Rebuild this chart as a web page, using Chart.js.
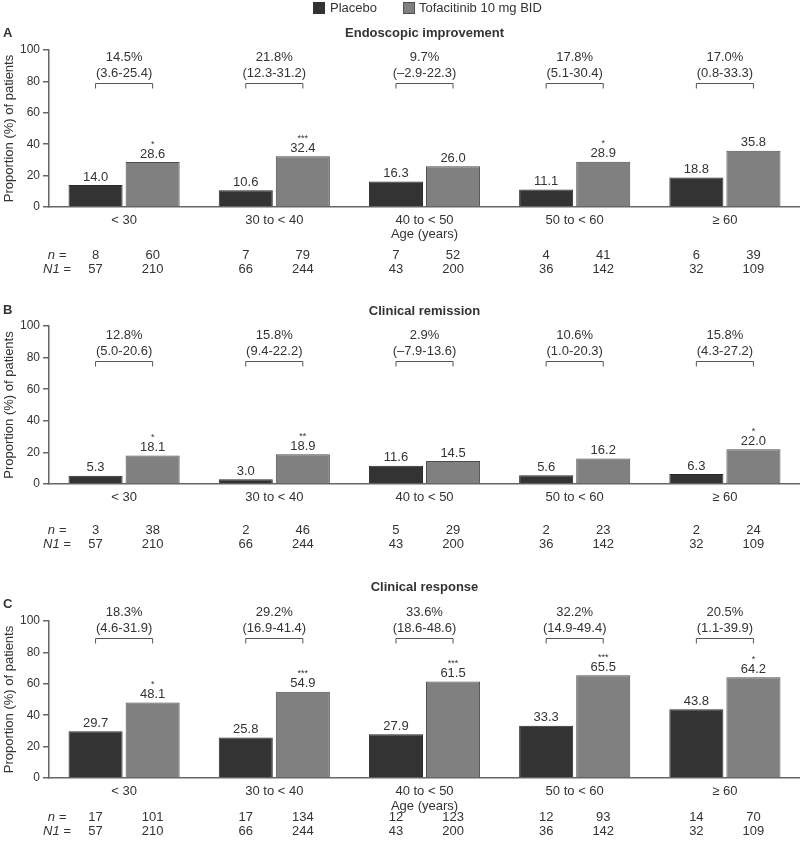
<!DOCTYPE html>
<html>
<head>
<meta charset="utf-8">
<script src="https://cdn.jsdelivr.net/npm/chart.js@4.4.1/dist/chart.umd.min.js"></script>
<style>
    body { margin: 0; background: #fff; }
    .panel { position: absolute; left: 0; width: 800px; height: 282px; }
</style>
</head>
<body>
<div class="panel" style="top:0"><canvas id="chartA" width="800" height="282"></canvas></div>
<div class="panel" style="top:282px"><canvas id="chartB" width="800" height="282"></canvas></div>
<div class="panel" style="top:564px"><canvas id="chartC" width="800" height="282"></canvas></div>
<script>
// ------------------------------------------------------------------
// DATA
// ------------------------------------------------------------------
const AGE_GROUPS = ["< 30", "30 to < 40", "40 to < 50", "50 to < 60", "≥ 60"];
const Y_TICKS = [0, 20, 40, 60, 80, 100];

const N1_PLACEBO = [57, 66, 43, 36, 32];
const N1_TOFA = [210, 244, 200, 142, 109];

// A - Endoscopic improvement
const ENDO_PLACEBO = [14.0, 10.6, 16.3, 11.1, 18.8];
const ENDO_TOFA = [28.6, 32.4, 26.0, 28.9, 35.8];
const ENDO_SIG = ["*", "***", "", "*", ""];
const ENDO_DIFF = ["14.5%", "21.8%", "9.7%", "17.8%", "17.0%"];
const ENDO_CI = ["(3.6-25.4)", "(12.3-31.2)", "(–2.9-22.3)", "(5.1-30.4)", "(0.8-33.3)"];
const ENDO_N_PLACEBO = [8, 7, 7, 4, 6];
const ENDO_N_TOFA = [60, 79, 52, 41, 39];

// B - Clinical remission
const REM_PLACEBO = [5.3, 3.0, 11.6, 5.6, 6.3];
const REM_TOFA = [18.1, 18.9, 14.5, 16.2, 22.0];
const REM_SIG = ["*", "**", "", "", "*"];
const REM_DIFF = ["12.8%", "15.8%", "2.9%", "10.6%", "15.8%"];
const REM_CI = ["(5.0-20.6)", "(9.4-22.2)", "(–7.9-13.6)", "(1.0-20.3)", "(4.3-27.2)"];
const REM_N_PLACEBO = [3, 2, 5, 2, 2];
const REM_N_TOFA = [38, 46, 29, 23, 24];

// C - Clinical response
const RESP_PLACEBO = [29.7, 25.8, 27.9, 33.3, 43.8];
const RESP_TOFA = [48.1, 54.9, 61.5, 65.5, 64.2];
const RESP_SIG = ["*", "***", "***", "***", "*"];
const RESP_DIFF = ["18.3%", "29.2%", "33.6%", "32.2%", "20.5%"];
const RESP_CI = ["(4.6-31.9)", "(16.9-41.4)", "(18.6-48.6)", "(14.9-49.4)", "(1.1-39.9)"];
const RESP_N_PLACEBO = [17, 17, 12, 12, 14];
const RESP_N_TOFA = [101, 134, 123, 93, 70];

// ------------------------------------------------------------------
// STYLE
// ------------------------------------------------------------------
const FONT = '"Liberation Sans", Arial, sans-serif';
const TEXT = "#333";
const AXIS = "#666";
const PLACEBO_FILL = "#333333";
const TOFA_FILL = "#808080";
const TOFA_BORDER = "#4d4d4d";

// ------------------------------------------------------------------
const PANELS = [
    {
        id: "chartA", letter: "A", title: "Endoscopic improvement",
        placebo: ENDO_PLACEBO, tofa: ENDO_TOFA, sig: ENDO_SIG, diff: ENDO_DIFF, ci: ENDO_CI,
        nPlacebo: ENDO_N_PLACEBO, nTofa: ENDO_N_TOFA,
        padTop: 50, axisH: 75, titleY: 33, letterY: 33, legend: true,
        ageDy: 27, nDy: 48, bracket: 79
    },
    {
        id: "chartB", letter: "B", title: "Clinical remission",
        placebo: REM_PLACEBO, tofa: REM_TOFA, sig: REM_SIG, diff: REM_DIFF, ci: REM_CI,
        nPlacebo: REM_N_PLACEBO, nTofa: REM_N_TOFA,
        padTop: 44, axisH: 80, titleY: 29, letterY: 28, legend: false,
        ageDy: null, nDy: 46, bracket: 78
    },
    {
        id: "chartC", letter: "C", title: "Clinical response",
        placebo: RESP_PLACEBO, tofa: RESP_TOFA, sig: RESP_SIG, diff: RESP_DIFF, ci: RESP_CI,
        nPlacebo: RESP_N_PLACEBO, nTofa: RESP_N_TOFA,
        padTop: 57, axisH: 68, titleY: 23, letterY: 40, legend: false,
        ageDy: 28, nDy: 39, bracket: 89
    }
];

// ------------------------------------------------------------------
// annotations: titles, legend, value labels, brackets, n / N1 rows
// ------------------------------------------------------------------
function makeAnnotations(p) {
    return {
        id: "annotations",
        afterDraw(chart) {
            const ctx = chart.ctx;
            const area = chart.chartArea;
            const yScale = chart.scales.y;
            const barsP = chart.getDatasetMeta(0).data;
            const barsT = chart.getDatasetMeta(1).data;
            const midX = (area.left + area.right) / 2;

            ctx.save();
            ctx.fillStyle = TEXT;
            ctx.textBaseline = "middle";

            // panel letter + title
            ctx.font = "bold 13px " + FONT;
            ctx.textAlign = "left";
            ctx.fillText(p.letter, 3, p.letterY);
            ctx.textAlign = "center";
            ctx.fillText(p.title, midX, p.titleY);

            // legend (top panel only)
            if (p.legend) {
                ctx.font = "13px " + FONT;
                ctx.textAlign = "left";
                ctx.fillStyle = PLACEBO_FILL;
                ctx.fillRect(313, 2, 12, 12);
                ctx.fillStyle = TOFA_FILL;
                ctx.fillRect(403, 2, 12, 12);
                ctx.strokeStyle = TOFA_BORDER;
                ctx.lineWidth = 1;
                ctx.strokeRect(403.5, 2.5, 11, 11);
                ctx.fillStyle = TEXT;
                ctx.fillText(chart.data.datasets[0].label, 330, 8);
                ctx.fillText(chart.data.datasets[1].label, 419, 8);
            }

            ctx.textAlign = "center";
            for (let i = 0; i < AGE_GROUPS.length; i++) {
                const bp = barsP[i], bt = barsT[i];

                // value labels
                ctx.font = "13px " + FONT;
                ctx.fillText(p.placebo[i].toFixed(1), bp.x, bp.y - 8);
                ctx.fillText(p.tofa[i].toFixed(1), bt.x, bt.y - 8);
                if (p.sig[i]) {
                    ctx.font = "9px " + FONT;
                    ctx.fillText(p.sig[i], bt.x, bt.y - 18);
                }

                // bracket with difference and CI
                const by = Math.round(yScale.getPixelForValue(p.bracket)) + 0.5;
                ctx.strokeStyle = "#555";
                ctx.lineWidth = 1;
                ctx.beginPath();
                ctx.moveTo(bp.x, by + 5);
                ctx.lineTo(bp.x, by);
                ctx.lineTo(bt.x, by);
                ctx.lineTo(bt.x, by + 5);
                ctx.stroke();

                const cx = (bp.x + bt.x) / 2;
                ctx.font = "13px " + FONT;
                ctx.fillText(p.diff[i], cx, by - 26);
                ctx.fillText(p.ci[i], cx, by - 10);

                // n / N1 rows
                ctx.fillText(String(p.nPlacebo[i]), bp.x, area.bottom + p.nDy);
                ctx.fillText(String(p.nTofa[i]), bt.x, area.bottom + p.nDy);
                ctx.fillText(String(N1_PLACEBO[i]), bp.x, area.bottom + p.nDy + 14);
                ctx.fillText(String(N1_TOFA[i]), bt.x, area.bottom + p.nDy + 14);
            }

            ctx.font = "italic 13px " + FONT;
            ctx.fillText("n =", 57, area.bottom + p.nDy);
            ctx.fillText("N1 =", 57, area.bottom + p.nDy + 14);

            if (p.ageDy !== null) {
                ctx.font = "13px " + FONT;
                ctx.fillText("Age (years)", midX, area.bottom + p.ageDy);
            }
            ctx.restore();
        }
    };
}

// ------------------------------------------------------------------
function drawPanel(p) {
    const ctx = document.getElementById(p.id).getContext("2d");

    new Chart(ctx, {
        type: "bar",
        data: {
            labels: AGE_GROUPS,
            datasets: [
                {
                    label: "Placebo",
                    data: p.placebo,
                    backgroundColor: PLACEBO_FILL,
                    borderColor: "#2a2a2a",
                    borderWidth: 1
                },
                {
                    label: "Tofacitinib 10 mg BID",
                    data: p.tofa,
                    backgroundColor: TOFA_FILL,
                    borderColor: TOFA_BORDER,
                    borderWidth: 1
                }
            ]
        },
        options: {
            responsive: false,
            animation: false,
            devicePixelRatio: 1,
            categoryPercentage: 0.76,
            barPercentage: 0.947,
            layout: { padding: { top: p.padTop, left: 0, right: 0, bottom: 0 } },
            plugins: {
                legend: { display: false },
                tooltip: { enabled: false }
            },
            scales: {
                x: {
                    grid: { display: false },
                    border: { display: true, color: AXIS, width: 1.5 },
                    ticks: {
                        color: TEXT,
                        font: { family: FONT, size: 13 },
                        padding: -2,
                        maxRotation: 0,
                        autoSkip: false
                    },
                    afterFit: axis => { axis.height = p.axisH; }
                },
                y: {
                    min: Y_TICKS[0],
                    max: Y_TICKS[Y_TICKS.length - 1],
                    grid: {
                        drawOnChartArea: false,
                        drawTicks: true,
                        tickLength: 6,
                        color: AXIS,
                        lineWidth: 1.5
                    },
                    border: { display: true, color: AXIS, width: 1.5 },
                    ticks: {
                        stepSize: Y_TICKS[1] - Y_TICKS[0],
                        color: TEXT,
                        font: { family: FONT, size: 12 },
                        padding: 3
                    },
                    title: {
                        display: true,
                        text: "Proportion (%) of patients",
                        color: TEXT,
                        font: { family: FONT, size: 13 },
                        padding: { top: 2, bottom: 0 }
                    },
                    afterFit: axis => { axis.width = 49; }
                }
            }
        },
        plugins: [makeAnnotations(p)]
    });
}

PANELS.forEach(drawPanel);
</script>
</body>
</html>
